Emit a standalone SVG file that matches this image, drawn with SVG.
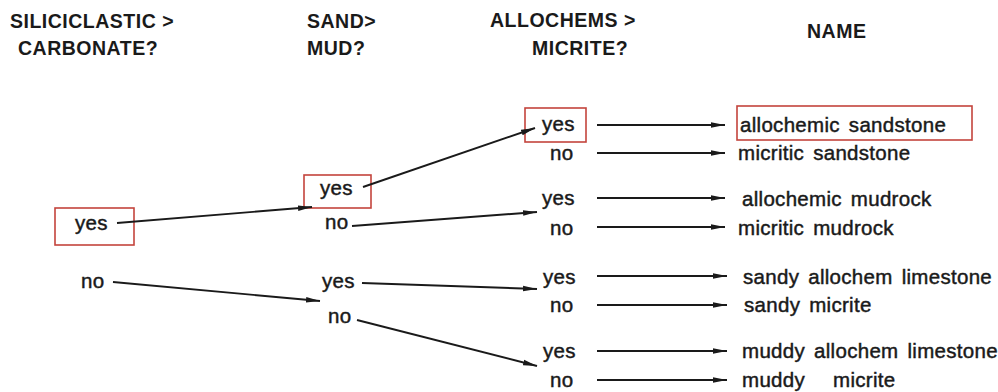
<svg xmlns="http://www.w3.org/2000/svg" width="998" height="392" viewBox="0 0 998 392">
<style>
.hd{font-family:"Liberation Sans",Arial,sans-serif;font-size:19.5px;font-weight:bold;fill:#1a1a1a;letter-spacing:0.5px}
.tx{font-family:"Liberation Sans",Arial,sans-serif;font-size:20.5px;fill:#1a1a1a;stroke:#1a1a1a;stroke-width:0.45;letter-spacing:0.3px;word-spacing:3px}
.box{fill:none;stroke:#c4443c;stroke-width:1.6}
.ln{stroke:#1a1a1a;stroke-width:1.9;fill:none;marker-end:url(#ah)}
</style>
<defs>
<marker id="ah" markerWidth="14" markerHeight="8" refX="14" refY="4" orient="auto" markerUnits="userSpaceOnUse">
<path d="M0,1.2 L14,4 L0,6.8 z" fill="#1a1a1a"/>
</marker>
</defs>
<rect width="998" height="392" fill="#ffffff"/>
<g id="headers">
<text class="hd" x="10" y="28">SILICICLASTIC &gt;</text>
<text class="hd" x="18" y="55">CARBONATE?</text>
<text class="hd" x="307" y="28">SAND&gt;</text>
<text class="hd" x="307" y="55">MUD?</text>
<text class="hd" x="490" y="27">ALLOCHEMS &gt;</text>
<text class="hd" x="532" y="55">MICRITE?</text>
<text class="hd" x="807" y="38">NAME</text>
</g>
<g id="col1-yes"><rect class="box" x="55" y="208" width="79" height="37"/><text class="tx" x="75" y="230">yes</text></g>
<g id="col1-no"><text class="tx" x="81" y="288">no</text></g>
<g id="col2-yes1"><rect class="box" x="304" y="175" width="67" height="33"/><text class="tx" x="320" y="195">yes</text></g>
<g id="col2-no1"><text class="tx" x="325" y="229">no</text></g>
<g id="col2-yes2"><text class="tx" x="322" y="288">yes</text></g>
<g id="col2-no2"><text class="tx" x="328" y="323">no</text></g>
<g id="col3-yes1"><rect class="box" x="525" y="108" width="61" height="34"/><text class="tx" x="542" y="131">yes</text></g>
<g id="col3-no1"><text class="tx" x="550" y="160">no</text></g>
<g id="col3-yes2"><text class="tx" x="542" y="205">yes</text></g>
<g id="col3-no2"><text class="tx" x="550" y="235">no</text></g>
<g id="col3-yes3"><text class="tx" x="543" y="284">yes</text></g>
<g id="col3-no3"><text class="tx" x="550" y="312">no</text></g>
<g id="col3-yes4"><text class="tx" x="543" y="358">yes</text></g>
<g id="col3-no4"><text class="tx" x="550" y="387">no</text></g>
<g id="name1"><rect class="box" x="737" y="106" width="235" height="34"/><text class="tx" x="740" y="132">allochemic sandstone</text></g>
<g id="name2"><text class="tx" x="738" y="160">micritic sandstone</text></g>
<g id="name3"><text class="tx" x="742" y="206">allochemic mudrock</text></g>
<g id="name4"><text class="tx" x="738" y="235">micritic mudrock</text></g>
<g id="name5"><text class="tx" x="743" y="284">sandy allochem limestone</text></g>
<g id="name6"><text class="tx" x="744" y="312">sandy micrite</text></g>
<g id="name7"><text class="tx" x="742" y="358">muddy allochem limestone</text></g>
<g id="name8"><text class="tx" x="742" y="387" style="word-spacing:22px">muddy micrite</text></g>
<g id="connectors">
<line class="ln" x1="117" y1="223" x2="312" y2="207"/>
<line class="ln" x1="113" y1="282" x2="320" y2="301"/>
<line class="ln" x1="363" y1="187" x2="535" y2="128"/>
<line class="ln" x1="352" y1="226" x2="537" y2="212"/>
<line class="ln" x1="362" y1="283" x2="537" y2="289"/>
<line class="ln" x1="357" y1="320" x2="537" y2="366"/>
<line class="ln" x1="597" y1="125" x2="725" y2="125"/>
<line class="ln" x1="597" y1="153" x2="725" y2="153"/>
<line class="ln" x1="597" y1="198" x2="725" y2="198"/>
<line class="ln" x1="597" y1="227" x2="725" y2="227"/>
<line class="ln" x1="597" y1="276" x2="727" y2="276"/>
<line class="ln" x1="597" y1="305" x2="727" y2="305"/>
<line class="ln" x1="597" y1="351" x2="727" y2="351"/>
<line class="ln" x1="597" y1="380" x2="727" y2="380"/>
</g>
</svg>
